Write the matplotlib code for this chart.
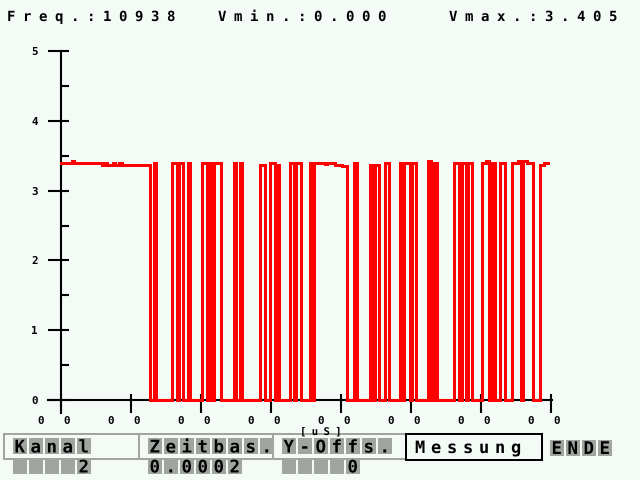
import numpy as np
import matplotlib
matplotlib.use('Agg')
import matplotlib.pyplot as plt
import matplotlib.patheffects as pe
from matplotlib.path import Path
from matplotlib.patches import Rectangle
from matplotlib.transforms import ScaledTranslation

# scope trace: sample index where a level starts, and that level in V
sig_x = [0, 11, 13, 41, 44, 46, 52, 54, 58, 61, 89,
         93, 95, 111, 116, 118, 122, 127, 129, 141, 146, 148, 151, 153, 160,
         173, 175, 179, 181, 199, 204, 209, 214, 216, 218, 229, 233, 235, 240,
         249, 251, 253, 264, 266, 274, 281, 286, 293, 296, 309, 312, 314, 318,
         324, 328, 339, 341, 343, 349, 351, 355, 367, 370, 373, 376,
         393, 398, 401, 405, 407, 411, 421, 425, 428, 431, 434, 439, 444,
         451, 457, 460, 462, 466, 472, 479, 483, 487]
sig_y = [3.39, 3.42, 3.39, 3.37, 3.39, 3.37, 3.39, 3.37, 3.39, 3.37, 0,
         3.39, 0, 3.39, 0, 3.39, 0, 3.39, 0, 3.39, 0, 3.39, 0, 3.39, 0,
         3.39, 0, 3.39, 0, 3.37, 0, 3.39, 0, 3.37, 0, 3.40, 0, 3.40, 0,
         3.39, 0, 3.40, 3.38, 3.40, 3.37, 3.35, 0, 3.39, 0, 3.37, 0, 3.37, 0,
         3.39, 0, 3.40, 0, 3.40, 0, 3.40, 0, 3.43, 0, 3.40, 0,
         3.40, 0, 3.40, 0, 3.40, 0, 3.39, 3.43, 0, 3.40, 0, 3.40, 0,
         3.39, 3.43, 0, 3.43, 3.40, 0, 3.37, 3.40, 3.40]

y_ticks = [0, 1, 2, 3, 4, 5]
y_labels = ['0', '1', '2', '3', '4', '5']
x_ticks = [0, 70, 140, 210, 280, 350, 420, 490]
x_labels = ['0   0'] * 8
x_unit = '[uS]'

header = ['Freq.:10938', 'Vmin.:0.000', 'Vmax.:3.405']
menu_names = ['Kanal', 'Zeitbas.', 'Y-Offs.']
menu_values = ['2', '0.0002', '0']
menu_value_cells = [5, 6, 5]
button = 'Messung'
end_button = 'ENDE'

BG = '#f4faf6'
GRAY = '#a0a5a0'
RED = '#ff0000'
MONO = 'DejaVu Sans Mono'
ADV = 60.2  # DejaVu Sans Mono advance in text-path units


class Spread(pe.AbstractPathEffect):
    # push monospace glyphs apart, like the scope's pixel font
    def __init__(self, extra):
        super().__init__()
        self.extra = extra

    def draw_path(self, renderer, gc, tpath, affine, rgbFace=None):
        v = tpath.vertices.copy()
        codes = tpath.codes
        starts = list(np.flatnonzero(codes == Path.MOVETO)) + [len(v)]
        for a, b in zip(starts[:-1], starts[1:]):
            keep = codes[a:b] != Path.CLOSEPOLY
            k = np.floor(v[a:b][keep, 0].mean() / ADV)
            v[a:b, 0] += k * ADV * self.extra
        renderer.draw_path(gc, Path(v, codes), affine, rgbFace)


fig = plt.figure(figsize=(6.4, 4.8), dpi=100, facecolor=BG)

# pixel-coordinate layer for header and menu bar
panel = fig.add_axes([0, 0, 1, 1], zorder=0)
panel.set_xlim(0, 640)
panel.set_ylim(480, 0)
panel.axis('off')


def spread_text(x, y, s, em, step, color='black'):
    adv = 0.602 * em
    return panel.text(x, y, s, fontsize=em * 0.72, family=MONO, weight='bold',
                      ha='left', va='baseline', color=color,
                      path_effects=[Spread(step / adv - 1)])


def cell_row(x0, y0, h, n, s, first=0, em=17.5):
    for i in range(n):
        panel.add_patch(Rectangle((x0 + 16 * i, y0), 13.5, h, color=GRAY, lw=0))
    spread_text(x0 + 16 * first + 6.75 - 0.301 * em, y0 + h - 1.5, s, em, 16)


for x0, s in zip([7, 218, 449], header):
    spread_text(x0, 21, s, 14, 16)

box_left = [4, 139, 273]
box_right = [139, 273, 406]
for i, name in enumerate(menu_names):
    panel.add_patch(Rectangle((box_left[i], 434), box_right[i] - box_left[i], 25,
                              fill=False, ec=GRAY, lw=1.44))
    cell_row(box_left[i] + 9, 438, 16, len(name), name)
    n = menu_value_cells[i]
    cell_row(box_left[i] + 9, 460, 14, n, menu_values[i], first=n - len(menu_values[i]))

panel.add_patch(Rectangle((406, 434), 136, 26, fill=False, ec='black', lw=1.44))
spread_text(415, 453, button, 17, 16)
cell_row(550, 439.5, 16, len(end_button), end_button)

# scope screen
ax = fig.add_axes([48 / 640, 1 - 413 / 480, 504 / 640, 362 / 480], zorder=1)
ax.patch.set_alpha(0)
ax.step(sig_x, sig_y, where='post', color=RED, lw=1.8, zorder=3, antialiased=False)
ax.set_xlim(-13, 491)
ax.set_ylim(-13 / 69.8, 5)

for s in ['top', 'right']:
    ax.spines[s].set_visible(False)
for s in ['left', 'bottom']:
    ax.spines[s].set_position(('data', 0))
    ax.spines[s].set_linewidth(1.5)
    ax.spines[s].set_color('black')

tick_font = dict(family=MONO, weight='bold', size=7.8)
ax.set_yticks(y_ticks, y_labels, **tick_font)
ax.set_yticks(np.arange(0, 5.01, 0.5), minor=True)
ax.yaxis.remove_overlapping_locs = False
ax.tick_params(axis='y', which='major', direction='out', length=13 * 0.72, width=1.5, pad=7.5)
ax.tick_params(axis='y', which='minor', direction='in', length=8 * 0.72, width=1.5)

ax.set_xticks(x_ticks, x_labels, **tick_font)
ax.set_xticks(x_ticks, minor=True)
ax.xaxis.remove_overlapping_locs = False
ax.tick_params(axis='x', which='major', direction='out', length=13 * 0.72, width=1.5, pad=2.5)
ax.tick_params(axis='x', which='minor', direction='in', length=6 * 0.72, width=1.5)
shift = ScaledTranslation(-6.5 / 100, 0, fig.dpi_scale_trans)
for lab in ax.get_xticklabels():
    lab.set_transform(lab.get_transform() + shift)

ax.set_xlabel(x_unit, family=MONO, weight='bold', size=7.6,
              path_effects=[Spread(11.7 / (0.602 * 10.5) - 1)])
ax.xaxis.label.set_ha('left')
ax.xaxis.set_label_coords((300 - 48) / 504, (413 - 427) / 362)

fig.savefig('out.png', dpi=100, facecolor=BG)
